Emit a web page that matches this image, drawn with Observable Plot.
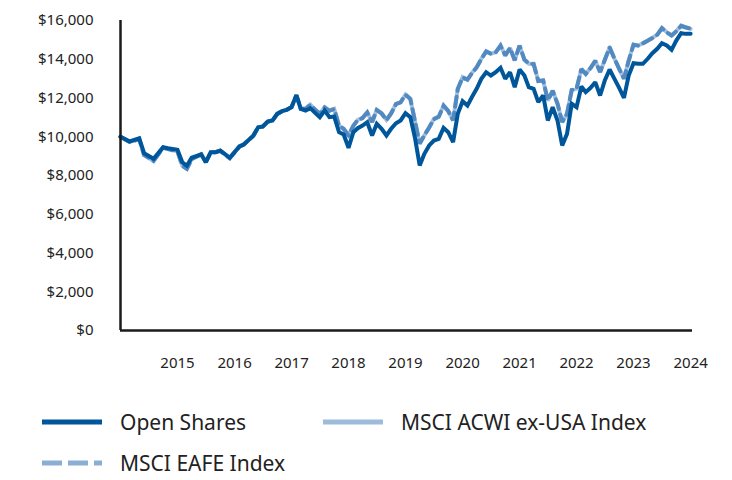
<!DOCTYPE html>
<html>
<head>
<meta charset="utf-8">
<script src="https://cdn.jsdelivr.net/npm/d3@7"></script>
<script src="https://cdn.jsdelivr.net/npm/@observablehq/plot@0.6"></script>
<style>
  html, body { margin: 0; padding: 0; background: #fff; }
  #wrap { position: relative; width: 732px; height: 480px; font-family: "Noto Sans", sans-serif; color: #222; }
  .leg { position: absolute; display: flex; align-items: center; font-size: 21px; white-space: nowrap; }
  .leg svg { margin-right: 18px; }
</style>
</head>
<body>
<div id="wrap"></div>
<script>
// Month-end dates (YYYY-MM)
const months = ["2014-12","2015-02","2015-04","2015-05","2015-07","2015-09","2015-10","2015-12",
"2016-01","2016-02","2016-03","2016-05","2016-06","2016-07","2016-08","2016-09","2016-11",
"2017-01","2017-02","2017-04","2017-05","2017-06","2017-07","2017-08","2017-09","2017-10","2017-11","2017-12",
"2018-01","2018-02","2018-03","2018-04","2018-05","2018-06","2018-07","2018-08","2018-09","2018-10","2018-11","2018-12",
"2019-01","2019-02","2019-03","2019-04","2019-05","2019-06","2019-07","2019-08","2019-09","2019-10","2019-11","2019-12",
"2020-01","2020-02","2020-03","2020-04","2020-05","2020-06","2020-07","2020-08","2020-09","2020-10","2020-11","2020-12",
"2021-01","2021-02","2021-03","2021-04","2021-05","2021-06","2021-07","2021-08","2021-09","2021-10","2021-11","2021-12",
"2022-01","2022-02","2022-03","2022-04","2022-05","2022-06","2022-07","2022-08","2022-09","2022-10","2022-11","2022-12",
"2023-01","2023-02","2023-03","2023-04","2023-05","2023-06","2023-07","2023-08","2023-09","2023-10","2023-11","2023-12",
"2024-01","2024-02","2024-03","2024-04","2024-05","2024-06","2024-07","2024-08","2024-09","2024-10","2024-11","2024-12"];

const openShares = [10000,9755,9925,9150,8860,9460,9410,9325,
8685,8500,8915,9085,8685,9200,9200,9290,8915,
9500,9600,10060,10490,10530,10785,10840,11180,11320,11390,11525,
12150,11440,11355,11475,11235,11010,11355,11010,11045,10235,10115,9430,
10235,10440,10580,10750,10065,10665,10410,10065,10410,10700,10840,11215,
11010,9975,8515,9120,9550,9805,9890,10460,10235,9720,11180,11835,
11610,12040,12475,12990,13330,13160,13330,13560,12990,13330,12555,13470,
13160,12555,12475,11785,12130,10840,11525,10840,9550,10150,11700,11525,
12595,12300,12525,12815,12130,12900,13470,12990,12525,12010,13160,13795,
13765,13765,14025,14315,14540,14830,14710,14485,14965,15345,15310,15310];

const acwiExUSA = [10000,9740,9880,9050,8750,9440,9380,9250,
8500,8350,8850,9100,8700,9200,9200,9280,8900,
9500,9600,10050,10480,10530,10785,10840,11180,11320,11390,11525,
12120,11450,11450,11665,11390,11180,11525,11355,11440,10580,10410,10065,
10580,10875,10975,11265,10750,11390,11215,10875,11215,11700,11785,12180,
11960,10840,9635,10065,10490,10925,11045,11610,11320,10840,12475,13075,
12940,13285,13595,14025,14415,14280,14365,14710,14190,14590,13935,14710,
13970,13765,13765,12870,12900,11870,12385,11700,10750,11180,12420,12475,
13505,13250,13560,13935,13330,13970,14620,14025,13505,12990,13935,14760,
14710,14830,14965,15105,15275,15620,15400,15225,15450,15740,15655,15565];

const eafe = [10000,9730,9870,9060,8760,9430,9370,9240,
8490,8340,8840,9090,8690,9190,9210,9270,8890,
9490,9610,10040,10470,10520,10770,10830,11170,11310,11400,11530,
12130,11460,11440,11650,11400,11190,11510,11340,11430,10590,10400,10060,
10570,10860,10960,11250,10760,11380,11200,10860,11200,11690,11780,12170,
11950,10830,9650,10080,10480,10910,11030,11600,11330,10850,12460,13060,
12950,13270,13580,14010,14400,14290,14350,14700,14200,14580,13950,14700,
13980,13780,13750,12880,12910,11880,12370,11710,10760,11190,12410,12480,
13490,13240,13550,13920,13340,13960,14610,14030,13510,13000,13920,14750,
14700,14820,14950,15090,15260,15600,15390,15230,15440,15720,15640,15580];

const series = [
  {name: "MSCI ACWI ex-USA Index", values: acwiExUSA, color: "#a3c1de", dash: null},
  {name: "MSCI EAFE Index", values: eafe, color: "#5289c0", dash: "10,6"},
  {name: "Open Shares", values: openShares, color: "#00569a", dash: null}
];
const legendOrder = [
  {name: "Open Shares", color: "#00569a", dash: null},
  {name: "MSCI ACWI ex-USA Index", color: "#9dbcdb", dash: null},
  {name: "MSCI EAFE Index", color: "#8aaed4", dash: "20,6"}
];
const yTicks = [0,2000,4000,6000,8000,10000,12000,14000,16000];
const xTickYears = [2015,2016,2017,2018,2019,2020,2021,2022,2023,2024];

const toDate = s => { const [y, m] = s.split("-").map(Number); return new Date(Date.UTC(y, m, 0)); };
const rows = series.flatMap(s => s.values.map((v, i) => ({date: toDate(months[i]), value: v, name: s.name})));
const yearEnd = y => new Date(Date.UTC(y, 11, 31));

const chart = Plot.plot({
  width: 732,
  height: 380,
  marginLeft: 120,
  marginRight: 40,
  marginTop: 20,
  marginBottom: 50,
  style: {fontFamily: "Noto Sans, sans-serif", fontSize: "15px", color: "#222"},
  x: {type: "utc", domain: [toDate(months[0]), new Date(Date.UTC(2025, 0, 12))], label: null},
  y: {domain: [0, 16000], label: null},
  marks: [
    Plot.axisY({ticks: yTicks, tickSize: 0, tickPadding: 27, tickFormat: d => "$" + d3.format(",")(d), fontSize: 15}),
    Plot.axisX({ticks: xTickYears.map(yearEnd), tickSize: 0, tickPadding: 27, tickFormat: d => String(d.getUTCFullYear()), fontSize: 15}),
    ...series.map(s => Plot.line(rows.filter(r => r.name === s.name), {
      x: "date", y: "value", stroke: s.color, strokeWidth: 4, strokeDasharray: s.dash, strokeLinejoin: "miter", strokeMiterlimit: 2
    })),
    Plot.ruleX([toDate(months[0])], {stroke: "#1a1a1a", strokeWidth: 2.5}),
    Plot.ruleY([0], {stroke: "#1a1a1a", strokeWidth: 2.5})
  ]
});

const wrap = document.getElementById("wrap");
wrap.appendChild(chart);

const legPos = [{left: 42, top: 407}, {left: 323, top: 407}, {left: 42, top: 448}];
legendOrder.forEach((l, i) => {
  const d = document.createElement("div");
  d.className = "leg";
  d.style.left = legPos[i].left + "px";
  d.style.top = legPos[i].top + "px";
  d.style.height = "30px";
  d.innerHTML = `<svg width="60" height="10"><line x1="0" x2="60" y1="5" y2="5" stroke="${l.color}" stroke-width="5" ${l.dash ? `stroke-dasharray="${l.dash}"` : ""}/></svg><span>${l.name}</span>`;
  wrap.appendChild(d);
});
</script>
</body>
</html>
